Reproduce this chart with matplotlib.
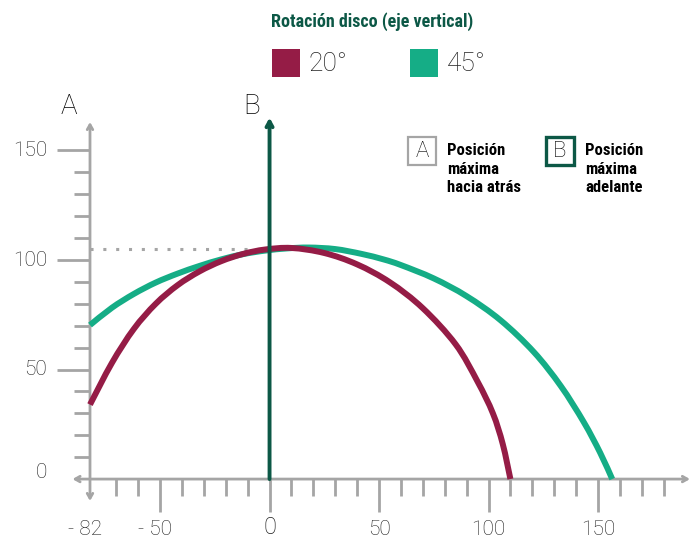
import numpy as np
import matplotlib.pyplot as plt
from matplotlib.patches import Rectangle, PathPatch
from matplotlib.path import Path

# Curva 20°
x_20 = [-82, -72, -62, -52, -42, -32, -22, -12, -2, 10, 25, 40, 55, 70, 85, 95, 102, 106.5, 110]
y_20 = [34, 53, 68.5, 80, 88.5, 94.8, 99.5, 102.8, 104.8, 105.5, 103.2, 98, 89.8, 78, 61.5, 44.5, 30, 16, 0]

# Curva 45°
x_45 = [-82, -72, -62, -52, -42, -32, -22, -12, -2, 8, 18, 30, 42, 52, 60, 75, 90, 105.5, 120.7, 133, 143.5,
        151, 156.5]
y_45 = [70.3, 78.2, 84.5, 89.7, 93.8, 97.3, 100.3, 102.7, 104.3, 105.3, 105.7, 105, 102.8, 100.3, 97.7, 91.6,
        83.5, 72.5, 58, 42.5, 26, 12, 0]

x_minor = list(range(-70, 190, 10))
x_major = [-50, 0, 50, 100, 150]
x_labels = ["- 82", "- 50", "0", "50", "100", "150"]
x_label_pos = [-82, -50, 0, 50, 100, 150]
y_minor = list(range(10, 160, 10))
y_major = [0, 50, 100, 150]
peak_y = 105
x_back = -82

RED = "#951c46"
GREEN = "#15ad86"
DARK = "#0c5846"
GRAY = "#a5a5a5"
TXT = "#1e1e1e"


def smooth_path(xs, ys):
    """Path con curvas Bezier que pasa por los puntos (Catmull-Rom)"""
    p = np.column_stack([xs, ys]).astype(float)
    verts = [p[0]]
    codes = [Path.MOVETO]
    for i in range(len(p) - 1):
        p0 = p[i - 1] if i > 0 else p[i]
        p3 = p[i + 2] if i + 2 < len(p) else p[i + 1]
        c1 = p[i] + (p[i + 1] - p0) / 6
        c2 = p[i + 1] - (p3 - p[i]) / 6
        verts += [c1, c2, p[i + 1]]
        codes += [Path.CURVE4] * 3
    return Path(verts, codes)


fig = plt.figure(figsize=(6.95, 5.38), dpi=100)
ax = fig.add_axes([0, 0, 1, 1])
ax.set_xlim(-123.1, 194.3)
ax.set_ylim(-26.9, 218.7)
ax.axis("off")

light = dict(family=["Roboto", "DejaVu Sans"], weight="light", color=TXT)
narrow = ["Liberation Sans Narrow", "Roboto Condensed", "DejaVu Sans"]

# ticks del eje x
for t in x_minor:
    ln = 15 if t in x_major else 7.5
    ax.plot([t, t], [0, -ln], color=GRAY, lw=2, solid_capstyle="butt", zorder=1)
for t, lab in zip(x_label_pos, x_labels):
    if lab.startswith("-"):
        ax.text(t + 5.5, -27.5, lab, ha="right", va="bottom", fontsize=15, **light)
    else:
        fs = 17 if lab == "0" else 15
        ax.text(t, -27.5, lab, ha="center", va="bottom", fontsize=fs, **light)

# ticks del eje y
for t in y_minor:
    ln = 15 if t in y_major else 7.5
    ax.plot([x_back - ln, x_back], [t, t], color=GRAY, lw=2, solid_capstyle="butt", zorder=1)
for t in y_major:
    ax.text(x_back - 19.5, t + (3 if t == 0 else 0), str(t), ha="right", va="center", fontsize=15, **light)

# ejes con flechas
ax.annotate("", xy=(192, 0), xytext=(-90, 0),
            arrowprops=dict(arrowstyle="<->,head_length=0.35,head_width=0.2", color=GRAY, lw=2,
                            shrinkA=0, shrinkB=0), zorder=1)
ax.annotate("", xy=(x_back, 163), xytext=(x_back, -10),
            arrowprops=dict(arrowstyle="<->,head_length=0.35,head_width=0.2", color=GRAY, lw=2,
                            shrinkA=0, shrinkB=0), zorder=1)

# línea punteada de la altura máxima
ax.plot([x_back, 0], [peak_y, peak_y], color=GRAY, lw=2.2, ls=(0, (1, 3.2)), zorder=1)

# curvas
ax.add_patch(PathPatch(smooth_path(x_20, y_20), facecolor="none", edgecolor=RED, lw=4.3,
                       capstyle="butt", zorder=3))
ax.add_patch(PathPatch(smooth_path(x_45, y_45), facecolor="none", edgecolor=GREEN, lw=4.3,
                       capstyle="butt", zorder=2))

# eje B
ax.annotate("", xy=(0, 165), xytext=(0, 0),
            arrowprops=dict(arrowstyle="->,head_length=0.4,head_width=0.22", color=DARK, lw=2.8,
                            shrinkA=0, shrinkB=0), zorder=4)

ax.text(-91.6, 170, "A", ha="center", va="center", fontsize=20, family=["Roboto", "DejaVu Sans"],
        weight="light", color="black")
ax.text(-8.2, 170, "B", ha="center", va="center", fontsize=20, family=["Roboto", "DejaVu Sans"],
        weight="light", color="black")

# título y leyenda
W, H = 695, 538
fig.text(372 / W, 1 - 22 / H, "Rotación disco (eje vertical)", ha="center", va="center", fontsize=13,
         family=narrow, weight="bold", color=DARK)
for x0, col, lab in [(272, RED, "20°"), (410, GREEN, "45°")]:
    fig.patches.append(Rectangle((x0 / W, 1 - 77 / H), 28 / W, 28 / H, transform=fig.transFigure,
                                 facecolor=col, edgecolor="none"))
    fig.text((x0 + 37) / W, 1 - 64 / H, lab, ha="left", va="center", fontsize=19,
             family=["Roboto", "DejaVu Sans"], weight="light", color="#222222")

# cajas A / B
for x0, ec, lw, letter, lines in [(408, GRAY, 1.6, "A", "Posición\nmáxima\nhacia atrás"),
                                  (546, DARK, 2.4, "B", "Posición\nmáxima\nadelante")]:
    fig.patches.append(Rectangle((x0 / W, 1 - 165 / H), 28 / W, 28 / H, transform=fig.transFigure,
                                 facecolor="white", edgecolor=ec, lw=lw))
    fig.text((x0 + 14) / W, 1 - 151.5 / H, letter, ha="center", va="center", fontsize=16,
             family=["Roboto", "DejaVu Sans"], weight="light", color="black")
    fig.text((x0 + 39) / W, 1 - 143 / H, lines, ha="left", va="top", fontsize=12, family=narrow,
             weight="bold", color="black", linespacing=1.3)

fig.savefig("out.png", dpi=100, facecolor="white")
